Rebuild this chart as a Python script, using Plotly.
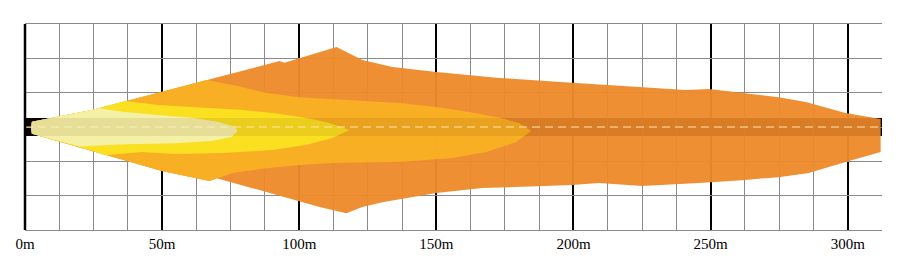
import plotly.graph_objects as go

# ---- data (distance in m, lateral offset in grid units) ----
outer_x = [2.2, 2.5, 24.8, 49.9, 66.3, 92.8, 94.6, 107.4, 113.6, 123.0, 134.0, 150.0, 172.9, 199.5,
           216.6, 241.0, 249.4, 261.4, 274.8, 284.7, 299.2, 312.0,
           312.0, 299.2, 285.8, 274.8, 261.4, 245.7, 225.0, 209.3, 199.5, 166.7, 150.0, 130.3,
           123.0, 117.2, 107.4, 69.9, 67.3, 49.9, 24.8, 2.5]
outer_y = [-0.03, 0.15, 0.50, 1.02, 1.37, 1.92, 1.87, 2.18, 2.33, 1.95, 1.75, 1.60, 1.43, 1.29,
           1.20, 1.08, 1.11, 0.99, 0.87, 0.73, 0.41, 0.23,
           -0.73, -1.02, -1.34, -1.46, -1.55, -1.63, -1.72, -1.63, -1.69, -1.78, -1.92, -2.19,
           -2.33, -2.51, -2.33, -1.49, -1.57, -1.28, -0.70, -0.20]

light_x = [2.2, 2.5, 24.8, 49.9, 66.3, 75.7, 88.1, 100.1, 118.3, 136.5, 150.0, 162.0, 171.8, 180.2,
           184.6, 179.1, 168.2, 155.8, 137.6, 112.1, 100.1, 88.1, 75.7, 69.9, 67.3, 49.9, 24.8, 2.5]
light_y = [-0.03, 0.15, 0.50, 1.02, 1.37, 1.22, 0.99, 0.87, 0.79, 0.70, 0.58, 0.44, 0.29, 0.12,
           -0.12, -0.44, -0.73, -0.90, -1.01, -1.05, -1.11, -1.20, -1.34, -1.49, -1.57, -1.28, -0.70, -0.20]

yellow_x = [2.2, 2.5, 24.8, 36.4, 48.4, 60.1, 78.3, 90.3, 102.7, 111.0, 118.3,
            112.1, 102.7, 90.3, 72.1, 54.6, 42.6, 29.1, 24.8, 2.5]
yellow_y = [-0.03, 0.15, 0.50, 0.76, 0.64, 0.58, 0.50, 0.41, 0.26, 0.12, -0.09,
            -0.32, -0.52, -0.67, -0.76, -0.79, -0.73, -0.82, -0.70, -0.20]

pale_x = [2.2, 2.5, 24.8, 27.3, 29.1, 36.4, 48.4, 60.8, 70.3, 76.5, 77.5,
          75.4, 68.1, 54.6, 36.4, 20.0, 2.5]
pale_y = [-0.03, 0.15, 0.50, 0.55, 0.52, 0.44, 0.35, 0.27, 0.15, 0.01, -0.12,
          -0.29, -0.41, -0.47, -0.50, -0.57, -0.20]

tick_vals = [0, 50, 100, 150, 200, 250, 300]
tick_text = ["0m", "50m", "100m", "150m", "200m", "250m", "300m"]

layers = [
    (outer_x, outer_y, "rgba(238,138,44,0.96)"),
    (light_x, light_y, "rgba(248,175,36,0.97)"),
    (yellow_x, yellow_y, "rgba(250,225,32,0.97)"),
    (pale_x, pale_y, "rgba(244,242,170,0.97)"),
]

fig = go.Figure()
for xs, ys, col in layers:
    fig.add_trace(go.Scatter(x=xs, y=ys, fill="toself", fillcolor=col, mode="lines",
                             line=dict(width=0, color=col), hoverinfo="skip", showlegend=False))

XMAX = 312.5
# dark central band: solid below traces, translucent above
fig.add_shape(type="rect", x0=0, x1=XMAX, y0=-0.26, y1=0.26, layer="below",
              fillcolor="black", line=dict(width=0))
fig.add_shape(type="rect", x0=0, x1=XMAX, y0=-0.26, y1=0.26, layer="above",
              fillcolor="rgba(90,30,0,0.09)", line=dict(width=0))
fig.add_shape(type="line", x0=0, x1=XMAX, y0=0, y1=0, layer="above",
              line=dict(color="rgba(255,238,190,0.6)", width=1.5, dash="8px,5px"))

fig.update_xaxes(range=[0, XMAX], tickvals=tick_vals, ticktext=tick_text,
                 showgrid=True, gridcolor="black", gridwidth=2,
                 minor=dict(dtick=12.5, tick0=0, showgrid=True, gridcolor="#8a8a8a", gridwidth=1),
                 zeroline=False, showline=True, linecolor="#8a8a8a", linewidth=1, mirror=True,
                 ticks="", tickfont=dict(family="'Liberation Serif', 'Times New Roman', serif",
                                         size=15, color="black"),
                 fixedrange=True)
fig.update_yaxes(range=[-3, 3], dtick=1, showgrid=True, gridcolor="#8a8a8a", gridwidth=1,
                 zeroline=False, showline=False, showticklabels=False, ticks="", fixedrange=True)
# left black border
fig.add_shape(type="line", xref="paper", yref="paper", x0=0, x1=0, y0=0, y1=1,
              line=dict(color="black", width=2.5), layer="above")

fig.update_layout(width=907, height=270, margin=dict(l=25, r=25, t=24, b=40),
                  plot_bgcolor="white", paper_bgcolor="white")
fig.write_html("out.html")
